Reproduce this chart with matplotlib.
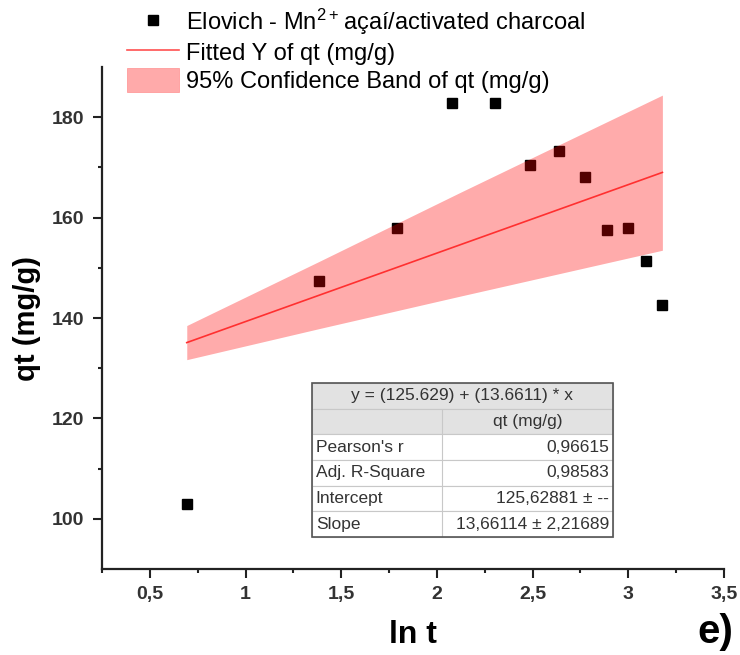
import matplotlib
matplotlib.use("Agg")
import matplotlib.pyplot as plt
import matplotlib.ticker as mticker
from matplotlib.lines import Line2D
from matplotlib.patches import Patch, Rectangle

plt.rcParams['font.family'] = ['Liberation Sans', 'DejaVu Sans']
plt.rcParams['mathtext.fontset'] = 'custom'
plt.rcParams['mathtext.rm'] = 'Liberation Sans'
plt.rcParams['mathtext.it'] = 'Liberation Sans:italic'

# data
ln_t = [0.693, 1.386, 1.792, 2.079, 2.303, 2.485, 2.639, 2.773, 2.890, 2.996, 3.091, 3.178]
qt = [103.0, 147.3, 157.9, 182.8, 182.8, 170.4, 173.2, 168.1, 157.5, 158.0, 151.4, 142.6]

fit_x = [0.693, 3.178]
fit_y = [135.1, 169.0]

band_x = [0.693, 1.386, 2.115, 2.485, 3.178]
band_lo = [131.7, 137.9, 144.3, 147.5, 153.5]
band_hi = [138.5, 151.3, 164.9, 171.7, 184.4]

table_title = "y = (125.629) + (13.6611) * x"
table_header = "qt (mg/g)"
table_rows = ["Pearson's r", "Adj. R-Square", "Intercept", "Slope"]
table_vals = ["0,96615", "0,98583", "125,62881 \u00b1 --", "13,66114 \u00b1 2,21689"]

fig = plt.figure(figsize=(7.4, 6.55), dpi=100)
ax = fig.add_axes([0.1378, 0.1313, 0.8406, 0.7664])

ax.plot(ln_t, qt, 's', color='black', ms=7, zorder=2)
ax.fill_between(band_x, band_lo, band_hi, color='red', alpha=0.33, lw=0, zorder=3)
ax.plot(fit_x, fit_y, color='#ff3030', lw=1.2, zorder=4)

ax.set_xlim(0.25, 3.5)
ax.set_ylim(90, 190)
ax.xaxis.set_major_locator(mticker.MultipleLocator(0.5))
ax.xaxis.set_minor_locator(mticker.MultipleLocator(0.25))
ax.yaxis.set_major_locator(mticker.FixedLocator([100, 120, 140, 160, 180]))
ax.yaxis.set_minor_locator(mticker.FixedLocator([110, 130, 150, 170]))

def comma(v, pos):
    return ('%g' % v).replace('.', ',')

ax.xaxis.set_major_formatter(mticker.FuncFormatter(comma))
ax.xaxis.set_minor_formatter(mticker.NullFormatter())

for s in ['top', 'right']:
    ax.spines[s].set_visible(False)
for s in ['left', 'bottom']:
    ax.spines[s].set_linewidth(1.6)
    ax.spines[s].set_color('#222222')

ax.tick_params(which='major', length=6.5, width=1.5, color='#222222', pad=6,
               labelsize=14, labelcolor='#333333', direction='out')
ax.tick_params(which='minor', length=3.2, width=1.5, color='#222222', direction='out')
for lab in ax.get_xticklabels() + ax.get_yticklabels():
    lab.set_fontweight('bold')

ax.set_xlabel('ln t', fontsize=23, fontweight='bold', labelpad=12)
ax.set_ylabel('qt (mg/g)', fontsize=21, fontweight='bold', labelpad=8)

# fit result table
tx0, tx1, txm = 0.3376, 0.8215, 0.546
ty0, ty1 = 0.0637, 0.3705
rh = (ty1 - ty0) / 6
for i in range(6):
    y = ty1 - (i + 1) * rh
    fc = '#e2e2e2' if i < 2 else 'white'
    ax.add_patch(Rectangle((tx0, y), tx1 - tx0, rh, transform=ax.transAxes,
                           facecolor=fc, edgecolor='#c8c8c8', lw=0.8, zorder=5))
for i in range(1, 6):
    y = ty1 - (i + 1) * rh
    ax.add_patch(Rectangle((txm, y), 0, rh, transform=ax.transAxes,
                           facecolor='none', edgecolor='#c8c8c8', lw=0.8, zorder=6))
ax.add_patch(Rectangle((tx0, ty0), tx1 - tx0, ty1 - ty0, transform=ax.transAxes,
                       facecolor='none', edgecolor='#555555', lw=1.2, zorder=7))
tkw = dict(transform=ax.transAxes, fontsize=12.5, color='#333333', va='center', zorder=8)
ax.text((tx0 + tx1) / 2, ty1 - 0.5 * rh, table_title, ha='center', **tkw)
ax.text((txm + tx1) / 2, ty1 - 1.5 * rh, table_header, ha='center', **tkw)
for i, (r, v) in enumerate(zip(table_rows, table_vals)):
    y = ty1 - (i + 2.5) * rh
    ax.text(tx0 + 0.006, y, r, ha='left', **tkw)
    ax.text(tx1 - 0.006, y, v, ha='right', **tkw)

handles = [Line2D([], [], marker='s', color='black', ls='none', ms=7),
           Line2D([], [], color='#ff5050', lw=1.2),
           Patch(facecolor='#ffaaaa', edgecolor='#ff9090', lw=0.5)]
labels = ['Elovich - Mn$^{2+}$\u200aa\u00e7a\u00ed/activated charcoal',
          'Fitted Y of qt (mg/g)',
          '95% Confidence Band of qt (mg/g)']
fig.legend(handles, labels, loc='upper left', bbox_to_anchor=(0.168, 0.993),
           frameon=False, fontsize=17, handlelength=2.2, handleheight=1.2,
           handletextpad=0.3, labelspacing=0.12, borderpad=0.1, borderaxespad=0)

fig.text(0.942, 0.035, 'e)', fontsize=29, fontweight='bold', ha='left', va='center')

fig.savefig('out.png', dpi=100)
